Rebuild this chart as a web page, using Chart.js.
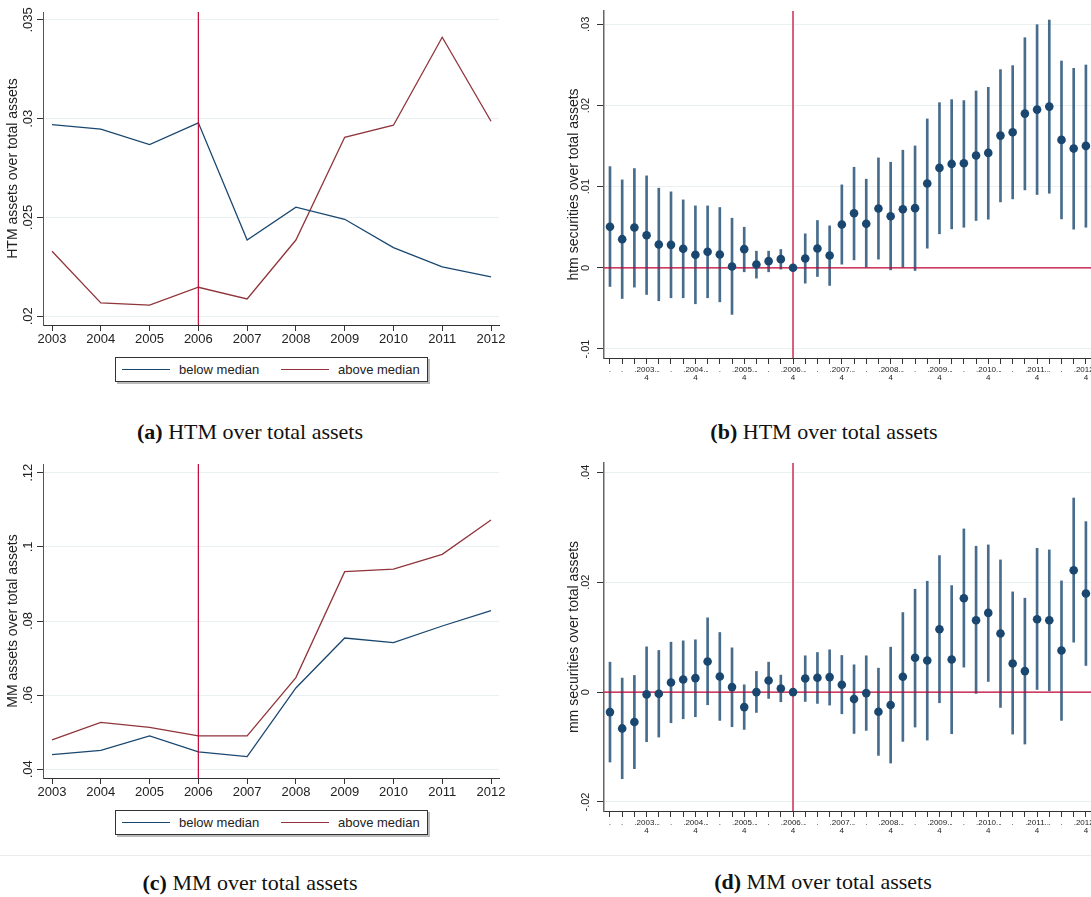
<!DOCTYPE html>
<html>
<head>
<meta charset="utf-8">
<script src="https://cdn.jsdelivr.net/npm/chart.js@4.4.1/dist/chart.umd.min.js"></script>
<style>
  html, body { margin: 0; padding: 0; background: #fff; overflow: hidden; }
  #wrap { position: relative; width: 1091px; height: 897px; overflow: hidden; }
  #wrap canvas { position: absolute; }
  .legend { position: absolute; left: 115px; width: 313px; height: 25px; border: 1px solid #333;
            box-shadow: 2px 2px 0 #bbb; box-sizing: border-box; background: #fff;
            font: 13px "Liberation Sans", Arial, sans-serif; color: #222; }
  .legend .ln { position: absolute; top: 11px; width: 48px; height: 0; border-top: 1.3px solid; }
  .legend .tx { position: absolute; top: 4px; }
  .cap { position: absolute; transform: translate(-50%, -50%); white-space: nowrap;
         font: 22px "Liberation Serif", "Times New Roman", serif; color: #111; }
  .sep { position: absolute; left: 0; width: 1091px; height: 1px; background: #ececec; }
</style>
</head>
<body>
<div id="wrap">
  <canvas id="chartA" width="545" height="350" style="left:0;top:0"></canvas>
  <canvas id="chartB" width="550" height="395" style="left:555px;top:0"></canvas>
  <canvas id="chartC" width="545" height="350" style="left:0;top:452px"></canvas>
  <canvas id="chartD" width="550" height="395" style="left:555px;top:452px"></canvas>

  <div class="legend" style="top:357px">
    <span class="ln" style="left:6px;border-color:#1a476f"></span><span class="tx" style="left:63px">below median</span>
    <span class="ln" style="left:165px;border-color:#90353b"></span><span class="tx" style="left:222px">above median</span>
  </div>
  <div class="legend" style="top:810px">
    <span class="ln" style="left:6px;border-color:#1a476f"></span><span class="tx" style="left:63px">below median</span>
    <span class="ln" style="left:165px;border-color:#90353b"></span><span class="tx" style="left:222px">above median</span>
  </div>

  <div class="cap" style="left:250px;top:432px"><b>(a)</b> HTM over total assets</div>
  <div class="cap" style="left:824px;top:432px"><b>(b)</b> HTM over total assets</div>
  <div class="sep" style="top:855px"></div>
  <div class="cap" style="left:250px;top:883px"><b>(c)</b> MM over total assets</div>
  <div class="cap" style="left:823px;top:882px"><b>(d)</b> MM over total assets</div>
</div>

<script>
// yearly means, split by median
const years    = [2003, 2004, 2005, 2006, 2007, 2008, 2009, 2010, 2011, 2012];
const htmBelow = [0.0297, 0.02947, 0.02869, 0.02979, 0.02386, 0.02552, 0.02491, 0.02348, 0.0225, 0.02199];
const htmAbove = [0.02329, 0.02068, 0.02057, 0.02147, 0.02088, 0.02386, 0.02906, 0.02967, 0.03412, 0.02987];
const mmBelow  = [0.04396, 0.04512, 0.04899, 0.04467, 0.04342, 0.06193, 0.07542, 0.07416, 0.07865, 0.08279];
const mmAbove  = [0.04791, 0.05267, 0.05133, 0.04899, 0.04899, 0.06472, 0.0933, 0.09402, 0.09798, 0.10724];
const eventYear = 2006;

// quarterly coefficients 2003q1..2012q4 with confidence bands
const htmCoef = [0.00505, 0.00353, 0.00497, 0.00402, 0.00287, 0.00283, 0.00234, 0.0016, 0.00197, 0.00164,
                 0.00016, 0.0023, 0.00041, 0.00082, 0.00107, 0, 0.00115, 0.00238, 0.00152, 0.00533,
                 0.00673, 0.00542, 0.0073, 0.00636, 0.00722, 0.00735, 0.01038, 0.01231, 0.0128, 0.01288,
                 0.01383, 0.01416, 0.01629, 0.0167, 0.019, 0.01949, 0.01986, 0.01576, 0.01469, 0.01502];
const htmHi   = [0.01247, 0.01083, 0.01223, 0.01133, 0.00981, 0.00936, 0.00837, 0.00763, 0.00763, 0.00743,
                 0.00611, 0.005, 0.00205, 0.00205, 0.00226, null, 0.00419, 0.00583, 0.00517, 0.01022,
                 0.01239, 0.01092, 0.01354, 0.01301, 0.01449, 0.01502, 0.01834, 0.02035, 0.02072, 0.0206,
                 0.02179, 0.02224, 0.02442, 0.02491, 0.02835, 0.02995, 0.03053, 0.02548, 0.02458, 0.02499];
const htmLo   = [-0.0023, -0.00378, -0.00238, -0.00328, -0.00406, -0.00369, -0.00369, -0.00443, -0.00369, -0.00419,
                 -0.00574, -0.00049, -0.00127, -0.00049, -0.00016, null, -0.00189, -0.00107, -0.00217, 0.00045,
                 0.00098, 0, 0.00107, -0.00025, 0, -0.00033, 0.00242, 0.00419, 0.0048, 0.005,
                 0.00583, 0.00599, 0.00812, 0.00849, 0.0096, 0.00903, 0.00919, 0.00603, 0.00476, 0.005];

const mmCoef  = [-0.00364, -0.00661, -0.00545, -0.00042, -0.0003, 0.00176, 0.0023, 0.00255, 0.00558, 0.00285,
                 0.00091, -0.00273, 0, 0.00212, 0.00067, 0, 0.00248, 0.00261, 0.00273, 0.00133,
                 -0.00127, -0.00018, -0.00358, -0.00236, 0.00279, 0.00624, 0.00576, 0.01145, 0.00594, 0.01709,
                 0.01309, 0.01442, 0.01067, 0.00521, 0.00382, 0.01327, 0.01309, 0.00758, 0.02218, 0.01794];
const mmHi    = [0.00545, 0.00255, 0.00303, 0.00824, 0.00758, 0.00909, 0.00933, 0.00952, 0.01352, 0.01085,
                 0.00806, 0.00133, 0.00376, 0.00545, 0.00309, null, 0.00661, 0.00721, 0.0077, 0.00667,
                 0.00497, 0.00661, 0.00436, 0.00818, 0.01448, 0.01873, 0.02018, 0.02485, 0.01939, 0.0297,
                 0.02655, 0.02679, 0.02406, 0.01824, 0.01709, 0.02618, 0.02588, 0.02024, 0.03533, 0.03103];
const mmLo    = [-0.01273, -0.01576, -0.01394, -0.00903, -0.00818, -0.00558, -0.00485, -0.00448, -0.0023, -0.00515,
                 -0.0063, -0.00679, -0.0037, -0.00115, -0.00176, null, -0.0017, -0.00206, -0.00236, -0.00394,
                 -0.00752, -0.00697, -0.01152, -0.01291, -0.00897, -0.00636, -0.00873, -0.00194, -0.00758, 0.00455,
                 -0.00024, 0.00194, -0.00279, -0.00764, -0.00945, 0.00048, 0.00024, -0.00515, 0.00909, 0.00485];
const eventQuarter = 15;   // 2006q4

// stata-ish truncated quarter labels
const quarterLabels = [];
years.forEach(function(y) {
  quarterLabels.push('.', '.', '', ['.' + y + '..', '4']);
});

const htmTicks  = [0.02, 0.025, 0.03, 0.035];
const mmTicks   = [0.04, 0.06, 0.08, 0.1, 0.12];
const htmQTicks = [-0.01, 0, 0.01, 0.02, 0.03];
const mmQTicks  = [-0.02, 0, 0.02, 0.04];

const NAVY = '#1a476f', MAROON = '#90353b', CRIMSON = '#c10534';
const GRID = '#e8f0f1';

Chart.defaults.font.family = '"Liberation Sans", Arial, sans-serif';
Chart.defaults.color = '#222';
Chart.defaults.animation = false;

function stataFmt(v) {
  var s = String(+v.toFixed(4));
  return s.replace(/^(-?)0\./, '$1.');
}

// y tick labels are rotated in the original
const rotTicks = {
  id: 'rotTicks',
  afterDraw: function(chart, args, opts) {
    var s = chart.scales.y, ctx = chart.ctx;
    ctx.save();
    ctx.font = opts.size + 'px "Liberation Sans", Arial, sans-serif';
    ctx.fillStyle = '#222';
    ctx.textAlign = 'center';
    ctx.textBaseline = 'middle';
    s.ticks.forEach(function(t) {
      ctx.save();
      ctx.translate(opts.x, s.getPixelForValue(t.value));
      ctx.rotate(-Math.PI / 2);
      ctx.fillText(stataFmt(t.value), 0, 0);
      ctx.restore();
    });
    ctx.restore();
  }
};

function pairs(xs, ys) {
  return xs.map(function(x, i) { return { x: x, y: ys[i] }; });
}

function yearChart(id, below, above, yTicks, yMin, yMax, title, xh) {
  new Chart(document.getElementById(id), {
    type: 'line',
    data: {
      datasets: [
        { data: [{ x: eventYear, y: yMin }, { x: eventYear, y: yMax }], borderColor: CRIMSON, borderWidth: 1.2, pointRadius: 0, order: 0 },
        { data: pairs(years, below), borderColor: NAVY, borderWidth: 1.3, pointRadius: 0, tension: 0, order: 1 },
        { data: pairs(years, above), borderColor: MAROON, borderWidth: 1.3, pointRadius: 0, tension: 0, order: 1 }
      ]
    },
    options: {
      responsive: false,
      layout: { padding: { top: 12, right: 46, left: 0, bottom: 0 } },
      plugins: { legend: { display: false }, tooltip: { enabled: false }, rotTicks: { x: 28, size: 13 } },
      scales: {
        x: {
          type: 'linear', min: 2002.815, max: 2012.164,
          afterBuildTicks: function(s) { s.ticks = years.map(function(v) { return { value: v }; }); },
          afterFit: function(s) { s.height = xh; },
          ticks: { autoSkip: false, maxRotation: 0, padding: 1, font: { size: 13 }, callback: function(v) { return String(v); } },
          grid: { drawOnChartArea: false, tickLength: 6, tickColor: '#333' },
          border: { color: '#333', width: 1 }
        },
        y: {
          min: yMin, max: yMax,
          afterBuildTicks: function(s) { s.ticks = yTicks.map(function(v) { return { value: v }; }); },
          afterFit: function(s) { s.width = 43; },
          ticks: { display: false },
          grid: { color: GRID, tickLength: 6, tickColor: '#333' },
          border: { color: '#555', width: 1 },
          title: { display: true, text: title, font: { size: 14 }, padding: { top: 5, bottom: 0 } }
        }
      }
    },
    plugins: [rotTicks]
  });
}

function quarterChart(id, coef, lo, hi, yTicks, yMin, yMax, title, xh) {
  var idx = coef.map(function(c, i) { return i; });
  var bands = [];
  idx.forEach(function(i) {
    if (lo[i] !== null) bands.push({ x: i, y: [lo[i], hi[i]] });
  });
  new Chart(document.getElementById(id), {
    type: 'scatter',
    data: {
      datasets: [
        { type: 'scatter', data: pairs(idx, coef), backgroundColor: NAVY, borderWidth: 0, pointRadius: 4.3, order: 0 },
        { type: 'line', data: [{ x: eventQuarter, y: yMin }, { x: eventQuarter, y: yMax }], borderColor: '#d6607c', borderWidth: 2, pointRadius: 0, order: 1 },
        { type: 'line', data: [{ x: -1, y: 0 }, { x: coef.length, y: 0 }], borderColor: CRIMSON, borderWidth: 1.3, pointRadius: 0, order: 1 },
        { type: 'bar', data: bands, backgroundColor: 'rgba(26,71,111,0.8)', barThickness: 2, grouped: false, order: 2 }
      ]
    },
    options: {
      responsive: false,
      layout: { padding: { top: 11, right: 13, left: 0, bottom: 0 } },
      plugins: { legend: { display: false }, tooltip: { enabled: false }, rotTicks: { x: 31, size: 11 } },
      scales: {
        x: {
          type: 'linear', min: -0.49, max: 39.5, offset: false,
          afterBuildTicks: function(s) { s.ticks = idx.map(function(v) { return { value: v }; }); },
          afterFit: function(s) { s.height = xh; },
          ticks: { autoSkip: false, maxRotation: 0, minRotation: 0, padding: 1, font: { size: 8, lineHeight: 1.1 },
                   callback: function(v) { return quarterLabels[v]; } },
          grid: { drawOnChartArea: false, offset: false, tickLength: 6, tickColor: '#333' },
          border: { color: '#333', width: 1 }
        },
        y: {
          type: 'linear', min: yMin, max: yMax, beginAtZero: false,
          afterBuildTicks: function(s) { s.ticks = yTicks.map(function(v) { return { value: v }; }); },
          afterFit: function(s) { s.width = 49; },
          ticks: { display: false },
          grid: { color: GRID, tickLength: 7, tickColor: '#333' },
          border: { color: '#666', width: 1.5 },
          title: { display: true, text: title, font: { size: 14 }, padding: { top: 11, bottom: 0 } }
        }
      }
    },
    plugins: [rotTicks]
  });
}

yearChart('chartA', htmBelow, htmAbove, htmTicks, 0.01956, 0.0354, 'HTM assets over total assets', 25);
yearChart('chartC', mmBelow, mmAbove, mmTicks, 0.03765, 0.12235, 'MM assets over total assets', 24);
quarterChart('chartB', htmCoef, htmLo, htmHi, htmQTicks, -0.01111, 0.03164, 'htm securities over total assets', 37);
quarterChart('chartD', mmCoef, mmLo, mmHi, mmQTicks, -0.02164, 0.0417, 'mm securities over total assets', 36);
</script>
</body>
</html>
